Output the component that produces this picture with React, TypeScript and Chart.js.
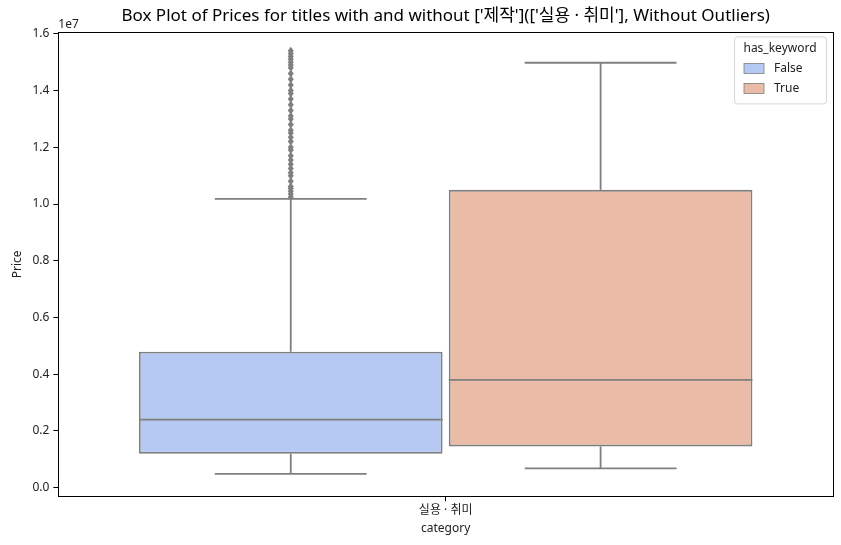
import React, { useEffect, useRef } from 'react';
import { Chart, registerables } from 'chart.js';

Chart.register(...registerables);

const categories = ['실용 · 취미'];
const hueLabels = ['False', 'True'];
const q1Values = [1.2e6, 1.456e6];
const medianValues = [2.4e6, 3.8e6];
const q3Values = [4.79e6, 1.05e7];
const whiskerLow = [0.49e6, 0.68e6];
const whiskerHigh = [1.018e7, 1.498e7];
const outliersFalse = [
  1.025e7, 1.035e7, 1.045e7, 1.055e7, 1.062e7, 1.08e7, 1.1e7, 1.11e7, 1.125e7, 1.14e7,
  1.155e7, 1.17e7, 1.19e7, 1.2e7, 1.22e7, 1.235e7, 1.25e7, 1.26e7, 1.28e7, 1.3e7,
  1.31e7, 1.33e7, 1.35e7, 1.37e7, 1.39e7, 1.4e7, 1.42e7, 1.44e7, 1.46e7, 1.48e7,
  1.49e7, 1.5e7, 1.51e7, 1.52e7, 1.53e7, 1.54e7,
];
const outliersTrue: number[] = [];
const yTickValues = [0, 2e6, 4e6, 6e6, 8e6, 1e7, 1.2e7, 1.4e7, 1.6e7];

const fillColors = ['#b5c9f2', '#eabba7'];
const edgeColor = '#7f7f7f';
const FONT = "'Noto Sans', 'Noto Sans CJK KR', sans-serif";

const boxPlugin = {
  id: 'boxExtras',
  afterDatasetsDraw(chart: any) {
    const ctx = chart.ctx;
    const y = chart.scales.y;
    const outliers = [outliersFalse, outliersTrue];
    ctx.save();
    ctx.strokeStyle = edgeColor;
    ctx.lineWidth = 1.8;
    const line = (x1: number, y1: number, x2: number, y2: number) => {
      ctx.beginPath();
      ctx.moveTo(x1, y1);
      ctx.lineTo(x2, y2);
      ctx.stroke();
    };
    for (let i = 0; i < hueLabels.length; i++) {
      const bar = chart.getDatasetMeta(i).data[0];
      const { x: cx, width: w } = bar.getProps(['x', 'width'], true);
      const yMed = y.getPixelForValue(medianValues[i]);
      const yQ1 = y.getPixelForValue(q1Values[i]);
      const yQ3 = y.getPixelForValue(q3Values[i]);
      const yLo = y.getPixelForValue(whiskerLow[i]);
      const yHi = y.getPixelForValue(whiskerHigh[i]);
      line(cx - w / 2, yMed, cx + w / 2, yMed);
      line(cx, yQ1, cx, yLo);
      line(cx, yQ3, cx, yHi);
      line(cx - w / 4, yLo, cx + w / 4, yLo);
      line(cx - w / 4, yHi, cx + w / 4, yHi);
      ctx.fillStyle = edgeColor;
      for (const v of outliers[i]) {
        const py = y.getPixelForValue(v);
        ctx.beginPath();
        ctx.moveTo(cx, py - 4);
        ctx.lineTo(cx + 3, py);
        ctx.lineTo(cx, py + 4);
        ctx.lineTo(cx - 3, py);
        ctx.closePath();
        ctx.fill();
      }
    }
    ctx.restore();
  },
  afterDraw(chart: any) {
    const ctx = chart.ctx;
    const a = chart.chartArea;
    ctx.save();
    ctx.strokeStyle = '#000';
    ctx.lineWidth = 1;
    ctx.strokeRect(Math.round(a.left) + 0.5, Math.round(a.top) + 0.5, Math.round(a.right - a.left), Math.round(a.bottom - a.top));
    ctx.fillStyle = '#222';
    ctx.font = `12px ${FONT}`;
    ctx.textAlign = 'left';
    ctx.textBaseline = 'bottom';
    ctx.fillText('1e7', a.left, a.top - 2);
    const bw = 92, bh = 67;
    const bx = a.right - 7 - bw;
    const by = a.top + 4;
    ctx.fillStyle = 'rgba(255,255,255,0.85)';
    ctx.strokeStyle = '#d6d6d6';
    ctx.beginPath();
    (ctx as any).roundRect(bx + 0.5, by + 0.5, bw, bh, 3);
    ctx.fill();
    ctx.stroke();
    ctx.fillStyle = '#222';
    ctx.textAlign = 'center';
    ctx.textBaseline = 'middle';
    ctx.font = `12px ${FONT}`;
    ctx.fillText('has_keyword', bx + bw / 2, by + 12);
    for (let i = 0; i < hueLabels.length; i++) {
      const ry = by + 32 + i * 20;
      ctx.fillStyle = fillColors[i];
      ctx.fillRect(bx + 10, ry - 5, 20, 10);
      ctx.strokeStyle = edgeColor;
      ctx.lineWidth = 0.8;
      ctx.strokeRect(bx + 10, ry - 5, 20, 10);
      ctx.fillStyle = '#222';
      ctx.textAlign = 'left';
      ctx.fillText(hueLabels[i], bx + 40, ry);
    }
    ctx.restore();
  },
};

export default function App() {
  const ref = useRef<HTMLCanvasElement>(null);
  useEffect(() => {
    document.body.style.margin = '0';
    const canvas = ref.current!;
    const chart = new Chart(canvas, {
      type: 'bar',
      data: {
        labels: categories,
        datasets: hueLabels.map((h, i) => ({
          label: h,
          data: [[q1Values[i], q3Values[i]]] as any,
          backgroundColor: fillColors[i],
          borderColor: edgeColor,
          borderWidth: 1.8,
          borderSkipped: false,
          categoryPercentage: 0.8,
          barPercentage: 0.98,
        })),
      },
      options: {
        animation: false,
        responsive: false,
        layout: { padding: { left: 10, right: 8, top: 0, bottom: 9 } },
        plugins: {
          legend: { display: false },
          tooltip: { enabled: false },
          title: {
            display: true,
            fullSize: false,
            text: "Box Plot of Prices for titles with and without ['제작'](['실용 · 취미'], Without Outliers)",
            color: '#000',
            font: { family: FONT, size: 17, weight: 'normal' },
            padding: { top: 6, bottom: 6 },
          },
        },
        scales: {
          x: {
            grid: { display: true, offset: false, drawOnChartArea: false, drawTicks: true, tickLength: 5, color: '#000' },
            border: { display: false },
            ticks: { color: '#222', font: { family: FONT, size: 12 }, padding: 2 },
            title: { display: true, text: 'category', color: '#222', font: { family: FONT, size: 12 }, padding: { top: 2, bottom: 0 } },
          },
          y: {
            min: -3.0e5,
            max: 1.605e7,
            afterBuildTicks: (scale: any) => {
              scale.ticks = yTickValues.map((v) => ({ value: v }));
            },
            grid: { display: true, drawOnChartArea: false, drawTicks: true, tickLength: 5, color: '#000' },
            border: { display: false },
            ticks: {
              color: '#222',
              font: { family: FONT, size: 12 },
              padding: 4,
              callback: (v: any) => (Number(v) / 1e7).toFixed(1),
            },
            title: { display: true, text: 'Price', color: '#222', font: { family: FONT, size: 12 }, padding: { top: 0, bottom: 4 } },
          },
        },
      },
      plugins: [boxPlugin],
    });
    return () => chart.destroy();
  }, []);
  return <canvas ref={ref} width={841} height={545} style={{ display: 'block' }} />;
}
